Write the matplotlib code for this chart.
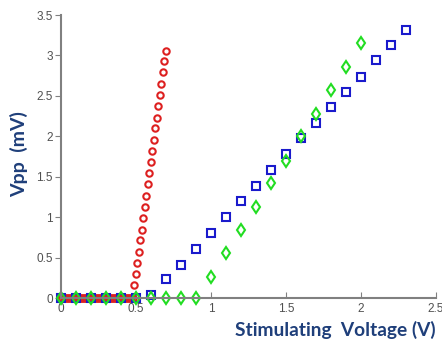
import numpy as np
import matplotlib
matplotlib.use('Agg')
import matplotlib.pyplot as plt

# red circles: dense sweep, 0.01 V steps
red_x = np.round(np.arange(0, 0.705, 0.01), 2)
red_y = [0] * 49 + [0.16, 0.30, 0.44, 0.575, 0.72, 0.85, 0.995, 1.13, 1.27, 1.41, 1.55,
                    1.68, 1.82, 1.96, 2.10, 2.23, 2.37, 2.51, 2.65, 2.79, 2.93, 3.06]

# blue squares, 0.1 V steps
blue_x = np.round(np.arange(0, 2.35, 0.1), 2)
blue_y = [0, 0, 0, 0, 0, 0, 0.04, 0.235, 0.415, 0.61, 0.81, 1.0, 1.2, 1.39, 1.59, 1.78,
          1.975, 2.17, 2.36, 2.55, 2.74, 2.94, 3.13, 3.32]

# green diamonds, 0.1 V steps
green_x = np.round(np.arange(0, 2.05, 0.1), 2)
green_y = [0, 0, 0, 0, 0, 0, 0, 0, 0, 0, 0.27, 0.555, 0.84, 1.13, 1.42, 1.70, 2.0,
           2.28, 2.57, 2.86, 3.15]

xticks = [0, 0.5, 1, 1.5, 2, 2.5]
xlabels = ['0', '0.5', '1', '1.5', '2', '2.5']
yticks = [0, 0.5, 1, 1.5, 2, 2.5, 3, 3.5]
ylabels = ['0', '0.5', '1', '1.5', '2', '2.5', '3', '3.5']

fig = plt.figure(figsize=(4.42, 3.41), dpi=100)
ax = fig.add_axes([0.138, 0.125, 0.848, 0.831])

ax.plot(red_x, red_y, 'o', ms=4.6, mfc='none', mec='#dd2020', mew=1.5, clip_on=False)
ax.plot(blue_x, blue_y, 's', ms=5.6, mfc='none', mec='#1a1acc', mew=1.5, clip_on=False)
ax.plot(green_x, green_y, 'd', ms=6, mfc='none', mec='#22dd22', mew=1.5, clip_on=False)

ax.set_xlim(0, 2.5)
ax.set_ylim(0, 3.5)
ax.set_xticks(xticks)
ax.set_xticklabels(xlabels, family='Liberation Sans')
ax.set_yticks(yticks)
ax.set_yticklabels(ylabels, family='Liberation Sans')

for s in ['top', 'right']:
    ax.spines[s].set_visible(False)
for s in ['left', 'bottom']:
    ax.spines[s].set_color('#808080')
    ax.spines[s].set_linewidth(1.5)
ax.tick_params(axis='x', direction='in', length=4, color='#808080', labelsize=8.5,
               labelcolor='#505050', pad=3)
ax.tick_params(axis='y', direction='out', length=4, color='#808080', labelsize=8.5,
               labelcolor='#505050', pad=2)

lblcol = '#1f3f7a'
fig.text(0.044, 0.548, 'Vpp  (mV)', rotation=90, ha='center', va='center',
         fontsize=14, fontweight='bold', color=lblcol, family='Lato')
fig.text(0.758, 0.032, 'Stimulating  Voltage (V)', ha='center', va='center',
         fontsize=13.8, fontweight='bold', color=lblcol, family='Lato')

fig.savefig('out.png', dpi=100)
